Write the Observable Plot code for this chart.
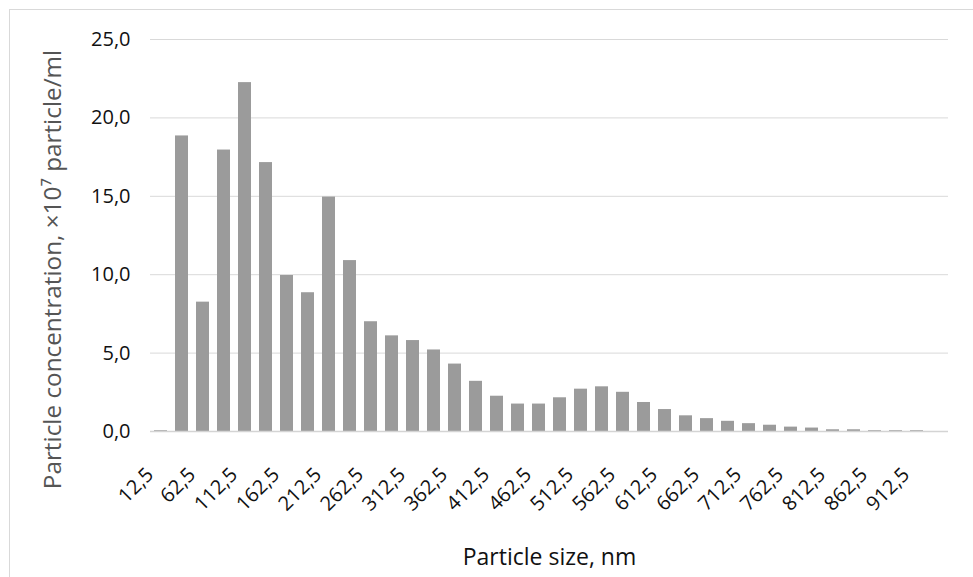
<!DOCTYPE html>
<html>
<head>
<meta charset="utf-8">
<script src="https://cdn.jsdelivr.net/npm/d3@7"></script>
<script src="https://cdn.jsdelivr.net/npm/@observablehq/plot@0.6"></script>
<style>
  html, body { margin: 0; padding: 0; background: #fff; }
  #wrap { position: relative; width: 973px; height: 577px; overflow: hidden; }
  #border { position: absolute; left: 9px; top: 9px; right: -2px; bottom: -2px;
            border-top: 1px solid #d9d9d9; border-left: 1px solid #d9d9d9; pointer-events: none; }
  svg { display: block; }
</style>
</head>
<body>
<div id="wrap"><div id="border"></div></div>
<script>
const sizes = ["12,5","37,5","62,5","87,5","112,5","137,5","162,5","187,5","212,5","237,5",
  "262,5","287,5","312,5","337,5","362,5","387,5","412,5","437,5","462,5","487,5",
  "512,5","537,5","562,5","587,5","612,5","637,5","662,5","687,5","712,5","737,5",
  "762,5","787,5","812,5","837,5","862,5","887,5","912,5","937,5"];
const concentration = [0.05, 18.85, 8.25, 17.95, 22.25, 17.15, 9.95, 8.85, 14.95, 10.9,
  7.0, 6.1, 5.8, 5.2, 4.3, 3.2, 2.25, 1.75, 1.75, 2.15,
  2.7, 2.85, 2.5, 1.85, 1.4, 1.0, 0.82, 0.65, 0.5, 0.4,
  0.28, 0.22, 0.11, 0.11, 0.05, 0.05, 0.05, 0];
const xTickLabels = ["12,5","62,5","112,5","162,5","212,5","262,5","312,5","362,5","412,5",
  "462,5","512,5","562,5","612,5","662,5","712,5","762,5","812,5","862,5","912,5"];
const yTicks = [0, 5, 10, 15, 20, 25];
const xTitle = "Particle size, nm";
const yTitle = "Particle concentration, ×10⁷ particle/ml";

const data = sizes.map((s, i) => ({size: s, value: concentration[i]}));
const font = "'Open Sans', sans-serif";

const chart = Plot.plot({
  width: 973,
  height: 577,
  marginLeft: 150,
  marginRight: 25,
  marginTop: 39,
  marginBottom: 146,
  style: {fontFamily: font, background: "transparent"},
  x: {type: "band", domain: sizes, paddingInner: 0.38, paddingOuter: 0.19, label: null},
  y: {domain: [0, 25], label: null},
  marks: [
    Plot.gridY(yTicks, {stroke: "#d9d9d9", strokeOpacity: 1, strokeWidth: 1}),
    Plot.barY(data, {x: "size", y: "value", fill: "#9b9b9b"}),
    Plot.ruleY([0], {stroke: "#d4d4d4", strokeWidth: 1.5}),
    Plot.axisY({ticks: yTicks, tickSize: 0, tickPadding: 20, fontSize: 20, fill: "#111",
      tickFormat: d => d.toFixed(1).replace(".", ","), label: null}),
    Plot.axisX({ticks: xTickLabels, tickSize: 0, tickPadding: 40, tickRotate: -45, dx: -11,
      fontSize: 20, fill: "#111", label: null}),
    Plot.text([xTitle], {text: d => d, frameAnchor: "bottom", dy: 126, fontSize: 23, fill: "#111", lineAnchor: "middle"}),
    Plot.text([yTitle], {text: d => d, frameAnchor: "left", rotate: -90, dx: -97, dy: 34, fontSize: 24.3, fill: "#555", lineAnchor: "middle", textAnchor: "middle"})
  ]
});
document.getElementById("wrap").prepend(chart);
</script>
</body>
</html>
